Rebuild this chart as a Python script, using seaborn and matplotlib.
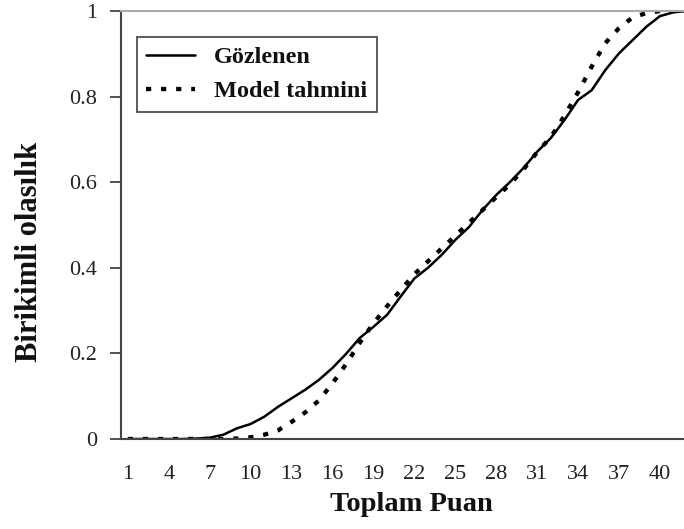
import matplotlib
matplotlib.use("Agg")
import matplotlib.pyplot as plt
import seaborn as sns
import pandas as pd

puan = list(range(1, 43))
gozlenen = [0, 0, 0, 0, 0, 0.001, 0.003, 0.01, 0.025, 0.035, 0.052, 0.075, 0.095, 0.115,
            0.138, 0.166, 0.199, 0.236, 0.262, 0.29, 0.333, 0.375, 0.40, 0.43, 0.465,
            0.495, 0.535, 0.57, 0.60, 0.633, 0.671, 0.703, 0.745, 0.792, 0.815, 0.862,
            0.901, 0.932, 0.963, 0.988, 0.997, 1.0]
model = [0, 0, 0, 0, 0, 0, 0, 0, 0.001, 0.004, 0.01, 0.02, 0.04, 0.062, 0.09, 0.13,
         0.175, 0.225, 0.27, 0.31, 0.348, 0.385, 0.415, 0.445, 0.475, 0.505, 0.535,
         0.565, 0.595, 0.63, 0.67, 0.705, 0.755, 0.81, 0.87, 0.925, 0.96, 0.985, 0.995,
         1.0, 1.0, 1.0]
xticks = list(range(1, 41, 3))
yticks = [0, 0.2, 0.4, 0.6, 0.8, 1.0]
yticklabels = ["0", "0.2", "0.4", "0.6", "0.8", "1"]

sns.set_style("white")
plt.rcParams['font.family'] = ['Liberation Serif', 'DejaVu Serif']
plt.rcParams['text.color'] = '#111111'
plt.rcParams['axes.labelcolor'] = '#111111'
plt.rcParams['xtick.color'] = '#222222'
plt.rcParams['ytick.color'] = '#222222'

df = pd.DataFrame({"Puan": puan, "Gözlenen": gozlenen, "Model tahmini": model})

fig = plt.figure(figsize=(6.84, 5.29), dpi=100)
ax = fig.add_axes([121/684, 90/529, 573/684, (439 - 11)/529])

sns.lineplot(data=df, x="Puan", y="Gözlenen", ax=ax, color="black", linewidth=1.8,
             label="Gözlenen")
sns.lineplot(data=df, x="Puan", y="Model tahmini", ax=ax, color="black", linewidth=3.1,
             linestyle=(0, (1.2, 2.3)), label="Model tahmini")

ax.set_xlim(0.5, 42.5)
ax.set_ylim(0, 1)
ax.set_xticks(xticks)
ax.set_xticklabels([str(v) for v in xticks], fontsize=16)
ax.set_yticks(yticks)
ax.set_yticklabels(yticklabels, fontsize=16)
ax.tick_params(axis="x", length=0, pad=19)
ax.tick_params(axis="y", length=8, width=1.3, color="#444444", pad=9, left=True)

for s in ["left", "bottom"]:
    ax.spines[s].set_color("#444444")
    ax.spines[s].set_linewidth(1.5)
ax.spines["right"].set_visible(False)
ax.spines["top"].set_color("#aaaaaa")
ax.spines["top"].set_linewidth(1.5)

ax.set_xlabel("Toplam Puan", fontsize=20.5, fontweight="bold")
ax.xaxis.set_label_coords((411 - 121) / 573, -(517 - 439) / 428)
ax.xaxis.label.set_va("bottom")
ax.set_ylabel("Birikimli olasılık", fontsize=22, fontweight="bold")
ax.yaxis.set_label_coords((44 - 121) / 573, (439 - 252) / 428)

leg = ax.legend(loc="upper left", bbox_to_anchor=(16 / 573, (439 - 37) / 428), frameon=True,
                fancybox=False, edgecolor="#222222", prop={"weight": "bold", "size": 17.5},
                handlelength=2.0, handletextpad=0.8, borderpad=0.38, labelspacing=0.5,
                borderaxespad=0)
leg.get_frame().set_linewidth(1.3)

fig.savefig("out.png", dpi=100)
